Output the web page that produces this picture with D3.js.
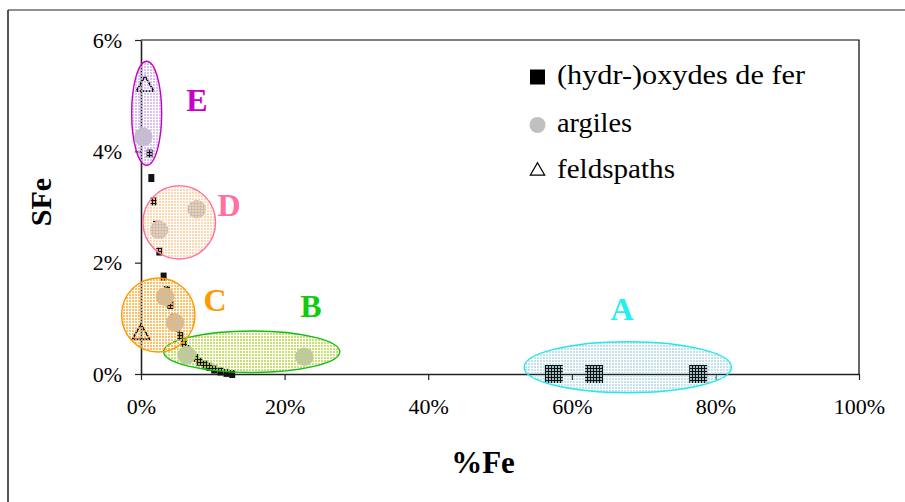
<!DOCTYPE html>
<html><head><meta charset="utf-8">
<script src="https://cdn.jsdelivr.net/npm/d3@7"></script>
<style>body{margin:0;background:#fff}svg{display:block}text{font-family:"Liberation Serif","Times New Roman",serif}</style>
</head><body><svg id="c" width="905" height="502"></svg>
<script>
const xTicks=[0,0.2,0.4,0.6,0.8,1.0];
const yTicks=[0,0.02,0.04,0.06];
const oxideBigX=[0.575,0.631,0.776];
const oxideBigY=[0,0,0];
const oxideX=[0.012,0.0144,0.0176,0.0209,0.0255,0.0315,0.0363,0.0409,0.0455,0.05,0.0548,0.0597,0.0646,0.07,0.0757,0.0813,0.0883,0.095,0.102,0.1106,0.119,0.127];
const oxideY=[0.0396,0.0352,0.0310,0.0268,0.0220,0.0175,0.0151,0.0124,0.0101,0.0083,0.0068,0.0056,0.0045,0.0036,0.0029,0.0022,0.0017,0.0013,0.0008,0.00045,0.0002,0];
const clayX=[0.0032,0.0251,0.0776,0.0334,0.0474,0.0636,0.2274];
const clayY=[0.0426,0.0259,0.0296,0.0139,0.0092,0.0034,0.0031];
const feldX=[0.0056,0.0];
const feldY=[0.0519,0.0073];
const groupNames=["A","B","C","D","E"];
const groupCX=[0.678,0.1542,0.0241,0.0533,0.0079];
const groupCY=[0.00122,0.0040,0.0106,0.02725,0.04683];
const groupRX=[0.1444,0.1226,0.0511,0.0506,0.0209];
const groupRY=[0.00458,0.00372,0.00665,0.00659,0.00934];
const labelX=[0.67,0.2368,0.103,0.1226,0.078];
const labelY=[0.01168,0.01221,0.01329,0.03036,0.04922];
const legendLabels=["(hydr-)oxydes de fer","argiles","feldspaths"];
const legendWidths=[248,75,118];
const strokeCol={A:"#22e8f0",B:"#10c010",C:"#ff9900",D:"#ff6f9f",E:"#c800c8"};
const labelCol={A:"#22f0f0",B:"#10cc10",C:"#ff9900",D:"#ff6f9f",E:"#c800c8"};
const dotCol={A:"#b6dde8",B:"#bedc55",C:"#ffb445",D:"#ffcf9f",E:"#d2b4f2"};

const svg=d3.select("#c");
const x=d3.scaleLinear().domain([0,1]).range([141,859]);
const y=d3.scaleLinear().domain([0,0.06]).range([374,40]);

// patterns
const defs=svg.append("defs");
groupNames.forEach(g=>{
  const p=defs.append("pattern").attr("id","pat"+g).attr("patternUnits","userSpaceOnUse").attr("width",3).attr("height",3);
  p.append("rect").attr("x",0).attr("y",0).attr("width",2).attr("height",2).attr("fill",dotCol[g]);
});

// outer frame
svg.append("line").attr("x1",8).attr("y1",10).attr("x2",8).attr("y2",502).attr("stroke","#555").attr("stroke-width",2);
svg.append("line").attr("x1",8).attr("y1",10).attr("x2",905).attr("y2",10).attr("stroke","#222").attr("stroke-width",1.2);

// plot border top/right
svg.append("path").attr("d",`M${x(0)},${y(0.06)}H${x(1)}V${y(0)}`).attr("fill","none").attr("stroke","#000").attr("stroke-width",1.2);

// axes
const ya=svg.append("g").attr("transform",`translate(${x(0)},0)`)
  .call(d3.axisLeft(y).tickValues(yTicks).tickFormat(d3.format(".0%")).tickSize(6).tickSizeOuter(0).tickPadding(13));
const xa=svg.append("g").attr("transform",`translate(0,${y(0)})`)
  .call(d3.axisBottom(x).tickValues(xTicks).tickFormat(d3.format(".0%")).tickSize(6).tickSizeOuter(0).tickPadding(18));
[ya,xa].forEach(a=>{
  a.attr("font-family",null);
  a.selectAll("text").attr("font-size",22).attr("fill","#000");
  a.select(".domain").attr("stroke","#222").attr("stroke-width",1.6);
  a.selectAll(".tick line").attr("stroke","#222").attr("stroke-width",1.2);
});

// oxide curve markers
svg.append("g").selectAll("rect").data(oxideX).join("rect")
  .attr("x",(d,i)=>x(d)-3).attr("y",(d,i)=>y(oxideY[i])-4)
  .attr("width",6).attr("height",8).attr("fill","#111");
svg.append("g").selectAll("rect").data(oxideBigX).join("rect")
  .attr("x",(d,i)=>x(d)-9).attr("y",(d,i)=>y(oxideBigY[i])-9)
  .attr("width",18).attr("height",18).attr("fill","#111");
// clays
svg.append("g").selectAll("circle").data(clayX).join("circle")
  .attr("cx",d=>x(d)).attr("cy",(d,i)=>y(clayY[i])).attr("r",9.3).attr("fill","#c0c0c0");
// feldspars
const tri=d3.symbol().type(d3.symbolTriangle).size(130);
svg.append("g").selectAll("path").data(feldX).join("path")
  .attr("d",tri).attr("transform",(d,i)=>`translate(${x(d)},${y(feldY[i])+1})`)
  .attr("fill","none").attr("stroke","#111").attr("stroke-width",1.8);

// group ellipses
groupNames.forEach((g,i)=>{
  const cx=x(groupCX[i]), cy=y(groupCY[i]);
  const rx=x(groupCX[i]+groupRX[i])-cx, ry=cy-y(groupCY[i]+groupRY[i]);
  svg.append("ellipse").attr("cx",cx).attr("cy",cy).attr("rx",rx).attr("ry",ry)
    .attr("fill","url(#pat"+g+")").attr("fill-opacity",0.85).attr("stroke",strokeCol[g]).attr("stroke-width",1.4);
  svg.append("text").attr("x",x(labelX[i])).attr("y",y(labelY[i])).attr("dy","0.35em")
    .attr("text-anchor","middle").attr("font-size",32).attr("font-weight","bold")
    .attr("fill",labelCol[g]).text(g);
});

// legend
const lg=svg.append("g");
lg.append("rect").attr("x",530).attr("y",69.5).attr("width",15).attr("height",15).attr("fill","#000");
lg.append("circle").attr("cx",537.5).attr("cy",125).attr("r",8).attr("fill","#c0c0c0");
lg.append("path").attr("d",d3.symbol().type(d3.symbolTriangle).size(90)).attr("transform","translate(537.5,171)")
  .attr("fill","none").attr("stroke","#000").attr("stroke-width",1.2);
const lys=[84,132,178];
legendLabels.forEach((t,i)=>{
  lg.append("text").attr("x",557).attr("y",lys[i]).attr("font-size",28).attr("fill","#000")
    .attr("textLength",legendWidths[i]).attr("lengthAdjust","spacingAndGlyphs").text(t);
});

// axis titles
svg.append("text").attr("x",483).attr("y",473).attr("text-anchor","middle").attr("font-size",31).attr("font-weight","bold").text("%Fe");
svg.append("text").attr("transform","translate(51,202) rotate(-90)").attr("text-anchor","middle").attr("font-size",30).attr("font-weight","bold").text("SFe");
</script>
</body></html>
